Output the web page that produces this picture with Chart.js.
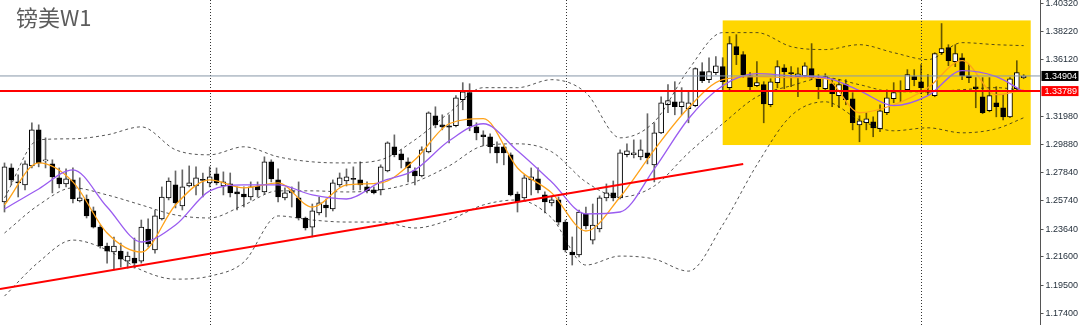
<!DOCTYPE html>
<html>
<head>
<meta charset="utf-8">
<script src="https://cdn.jsdelivr.net/npm/chart.js@4.4.1/dist/chart.umd.min.js"></script>
<style>
html, body { margin: 0; padding: 0; background: #fff; }
#wrap { width: 1080px; height: 325px; }
</style>
</head>
<body>
<div id="wrap"><canvas id="chart" width="1080" height="325"></canvas></div>
<script>
// GBPUSD weekly candles (index 0 = leftmost bar)
const title = '镑美W1';
const opens = [
  1.2561,1.2812,1.2709,1.2687,1.2827,1.3093,1.2864,1.2842,1.2739,1.2694,
  1.2724,1.2569,1.2583,1.2495,1.2376,1.2236,1.2192,1.2199,1.2125,1.2147,
  1.2125,1.2362,1.2207,1.2436,1.2591,1.2687,1.2532,1.2679,1.2679,1.2724,
  1.2702,1.2768,1.2679,1.2694,1.2635,1.2620,1.2598,1.2679,1.2635,1.2857,
  1.2724,1.2591,1.2628,1.2591,1.2443,1.2376,1.2480,1.2539,1.2509,1.2687,
  1.2716,1.2731,1.2724,1.2672,1.2650,1.2650,1.2790,1.2968,1.2916,1.2857,
  1.2790,1.2753,1.2931,1.3197,1.3130,1.3123,1.3123,1.3315,1.3367,1.3115,
  1.3056,1.3042,1.2968,1.2968,1.2909,1.2620,1.2591,1.2724,1.2731,1.2613,
  1.2554,1.2576,1.2413,1.2192,1.2170,1.2473,1.2280,1.2362,1.2591,1.2628,
  1.2591,1.2909,1.2909,1.2894,1.2923,1.2835,1.3071,1.3278,1.3300,1.3263,
  1.3249,1.3271,1.3522,1.3463,1.3515,1.3559,1.3404,1.3707,1.3648,1.3492,
  1.3418,1.3426,1.3278,1.3441,1.3551,1.3515,1.3485,1.3492,1.3544,1.3470,
  1.3396,1.3433,1.3345,1.3426,1.3322,1.3130,1.3145,1.3152,1.3101,1.3219,
  1.3322,1.3382,1.3389,1.3485,1.3448,1.3374,1.3345,1.3662,1.3699,1.3596,
  1.3625,1.3492,1.3411,1.3337,1.3234,1.3293,1.3256,1.3189,1.3396,1.3478
];
const highs = [
  1.2849,1.2842,1.2761,1.2864,1.3145,1.3130,1.3034,1.2872,1.2812,1.2805,
  1.2812,1.2739,1.2613,1.2524,1.2391,1.2258,1.2303,1.2258,1.2192,1.2295,
  1.2428,1.2436,1.2502,1.2672,1.2739,1.2790,1.2798,1.2827,1.2820,1.2775,
  1.2820,1.2812,1.2783,1.2775,1.2672,1.2672,1.2709,1.2709,1.2894,1.2872,
  1.2805,1.2665,1.2672,1.2709,1.2450,1.2546,1.2598,1.2583,1.2724,1.2775,
  1.2805,1.2820,1.2857,1.2709,1.2672,1.2835,1.3005,1.3056,1.2946,1.2886,
  1.2812,1.2968,1.3226,1.3263,1.3204,1.3204,1.3345,1.3441,1.3433,1.3145,
  1.3086,1.3064,1.3005,1.2982,1.2923,1.2635,1.2761,1.2812,1.2812,1.2635,
  1.2598,1.2598,1.2428,1.2303,1.2502,1.2524,1.2546,1.2606,1.2694,1.2716,
  1.2946,1.2990,1.3019,1.3019,1.3212,1.3145,1.3337,1.3426,1.3448,1.3404,
  1.3374,1.3551,1.3588,1.3625,1.3633,1.3625,1.3781,1.3795,1.3670,1.3515,
  1.3596,1.3448,1.3470,1.3603,1.3574,1.3559,1.3551,1.3588,1.3729,1.3500,
  1.3507,1.3470,1.3463,1.3463,1.3367,1.3197,1.3219,1.3189,1.3278,1.3389,
  1.3441,1.3455,1.3537,1.3537,1.3574,1.3500,1.3662,1.3877,1.3721,1.3721,
  1.3655,1.3574,1.3478,1.3478,1.3478,1.3411,1.3352,1.3478,1.3603,1.3500
];
const lows = [
  1.2487,1.2687,1.2598,1.2650,1.2812,1.2820,1.2812,1.2628,1.2665,1.2672,
  1.2554,1.2561,1.2443,1.2369,1.2221,1.2110,1.2059,1.2081,1.2073,1.2073,
  1.2110,1.2229,1.2184,1.2428,1.2576,1.2517,1.2502,1.2672,1.2613,1.2598,
  1.2672,1.2687,1.2613,1.2598,1.2502,1.2524,1.2576,1.2598,1.2620,1.2709,
  1.2561,1.2576,1.2524,1.2428,1.2354,1.2303,1.2465,1.2450,1.2495,1.2672,
  1.2679,1.2650,1.2650,1.2628,1.2620,1.2613,1.2783,1.2894,1.2812,1.2709,
  1.2687,1.2746,1.2923,1.3108,1.3093,1.2997,1.3115,1.3241,1.3086,1.3019,
  1.2975,1.2923,1.2849,1.2835,1.2606,1.2487,1.2576,1.2613,1.2628,1.2480,
  1.2532,1.2391,1.2192,1.2096,1.2155,1.2362,1.2251,1.2340,1.2569,1.2569,
  1.2583,1.2894,1.2886,1.2872,1.2842,1.2709,1.3064,1.3219,1.3204,1.3204,
  1.3145,1.3263,1.3441,1.3441,1.3500,1.3389,1.3374,1.3574,1.3478,1.3374,
  1.3411,1.3145,1.3263,1.3404,1.3396,1.3411,1.3337,1.3478,1.3463,1.3322,
  1.3382,1.3263,1.3256,1.3278,1.3093,1.3005,1.3093,1.3042,1.3079,1.3204,
  1.3293,1.3300,1.3374,1.3418,1.3359,1.3352,1.3337,1.3648,1.3566,1.3559,
  1.3463,1.3441,1.3256,1.3212,1.3226,1.3189,1.3167,1.3182,1.3389,1.3470
];
const closes = [
  1.2820,1.2724,1.2702,1.2842,1.3093,1.2849,1.2872,1.2746,1.2694,1.2731,
  1.2583,1.2591,1.2458,1.2376,1.2236,1.2199,1.2236,1.2140,1.2162,1.2110,
  1.2376,1.2251,1.2458,1.2598,1.2716,1.2554,1.2672,1.2702,1.2739,1.2720,
  1.2746,1.2702,1.2709,1.2628,1.2620,1.2598,1.2672,1.2650,1.2857,1.2731,
  1.2598,1.2628,1.2643,1.2443,1.2369,1.2495,1.2554,1.2517,1.2702,1.2739,
  1.2746,1.2728,1.2687,1.2643,1.2628,1.2820,1.2997,1.2909,1.2872,1.2812,
  1.2753,1.2946,1.3219,1.3130,1.3115,1.3112,1.3330,1.3374,1.3123,1.3071,
  1.3042,1.2968,1.2923,1.2923,1.2613,1.2561,1.2739,1.2746,1.2650,1.2561,
  1.2576,1.2413,1.2207,1.2170,1.2487,1.2384,1.2391,1.2591,1.2628,1.2591,
  1.2923,1.2938,1.2923,1.2946,1.2886,1.3071,1.3293,1.3308,1.3263,1.3300,
  1.3293,1.3544,1.3455,1.3522,1.3566,1.3448,1.3729,1.3648,1.3500,1.3411,
  1.3441,1.3285,1.3448,1.3559,1.3522,1.3507,1.3507,1.3566,1.3478,1.3411,
  1.3485,1.3359,1.3426,1.3315,1.3145,1.3160,1.3175,1.3108,1.3234,1.3330,
  1.3367,1.3374,1.3500,1.3463,1.3404,1.3371,1.3655,1.3692,1.3603,1.3655,
  1.3492,1.3478,1.3396,1.3219,1.3345,1.3263,1.3189,1.3470,1.3515,1.34904
];

// indicator lines, read every 5th bar
const lineIdx  = [0,5,10,15,20,25,30,35,40,45,50,55,60,65,70,75,80,85,90,95,100,105,110,115,120,125,130,135,140,145,149];
const fastMa   = [1.2539,1.2849,1.2709,1.2332,1.2192,1.2539,1.2724,1.2665,1.2702,1.2524,1.2687,1.2702,1.2872,1.3138,1.3175,1.2812,1.2628,1.2347,1.2598,1.2946,1.3256,1.3463,1.3485,1.3478,1.3470,1.3219,1.3278,1.3404,1.3603,1.3352,1.3389];
const slowMa   = [1.2509,1.2657,1.2798,1.2524,1.2266,1.2391,1.2643,1.2687,1.2687,1.2613,1.2583,1.2709,1.2798,1.3012,1.3138,1.2938,1.2709,1.2473,1.2487,1.2805,1.3175,1.3418,1.3507,1.3492,1.3478,1.3382,1.3271,1.3345,1.3529,1.3485,1.3374];
const bandUp   = [1.2591,1.3019,1.3027,1.3056,1.3115,1.2946,1.2909,1.2968,1.2894,1.2857,1.2849,1.2872,1.3019,1.3219,1.3404,1.3404,1.3463,1.3367,1.3034,1.3152,1.3537,1.3810,1.3810,1.3707,1.3685,1.3721,1.3662,1.3611,1.3736,1.3721,1.3714];
const bandMid  = [1.2332,1.2539,1.2665,1.2613,1.2539,1.2465,1.2443,1.2539,1.2643,1.2643,1.2635,1.2650,1.2709,1.2827,1.2975,1.2990,1.2931,1.2709,1.2598,1.2679,1.2923,1.3138,1.3337,1.3418,1.3478,1.3426,1.3374,1.3374,1.3389,1.3404,1.3382];
const bandLow  = [1.1867,1.2118,1.2280,1.2207,1.2059,1.1992,1.2014,1.2118,1.2458,1.2428,1.2413,1.2413,1.2369,1.2428,1.2539,1.2576,1.2443,1.2096,1.2162,1.2140,1.2051,1.2391,1.2835,1.3197,1.3300,1.3167,1.3086,1.3108,1.3071,1.3101,1.3182];

const yTicks = [1.40320,1.38220,1.36120,1.31980,1.29880,1.27840,1.25740,1.23640,1.21600,1.19500,1.17400];
const lastPrice = 1.34904;
const levelPrice = 1.33789;
const yearLines = [30.04, 82.1, 134.0];
const trendX = [-0.66, 108];
const trendY = [1.1919, 1.2841];
const boxX = [105, 150.03];
const boxY = [1.2981, 1.3900];

const xMin = -0.658, xMax = 151.39;

const decor = {
  id: 'decor',
  beforeDatasetsDraw(chart) {
    const {ctx, chartArea: a, scales: {x, y}} = chart;
    ctx.save();
    const bx0 = x.getPixelForValue(boxX[0]), bx1 = x.getPixelForValue(boxX[1]);
    const by0 = y.getPixelForValue(boxY[1]), by1 = y.getPixelForValue(boxY[0]);
    ctx.fillStyle = '#ffd600';
    ctx.fillRect(bx0, by0, bx1 - bx0, by1 - by0);
    ctx.strokeStyle = '#333';
    ctx.lineWidth = 1;
    ctx.setLineDash([1, 2]);
    yearLines.forEach(v => {
      const px = Math.round(x.getPixelForValue(v)) + 0.5;
      ctx.beginPath();
      ctx.moveTo(px, a.top);
      ctx.lineTo(px, a.bottom);
      ctx.stroke();
    });
    ctx.restore();
  },
  afterDraw(chart) {
    const {ctx, chartArea: a, scales: {y}} = chart;
    ctx.save();
    const ax = a.right + 0.5;
    ctx.strokeStyle = '#555';
    ctx.lineWidth = 1;
    ctx.beginPath();
    ctx.moveTo(ax, 0);
    ctx.lineTo(ax, chart.height);
    ctx.stroke();
    ctx.font = '9px "Liberation Sans", Arial, sans-serif';
    ctx.textBaseline = 'middle';
    ctx.fillStyle = '#1e2a36';
    yTicks.forEach(v => {
      const py = Math.round(y.getPixelForValue(v)) + 0.5;
      ctx.beginPath();
      ctx.moveTo(ax, py);
      ctx.lineTo(ax + 3, py);
      ctx.stroke();
      ctx.fillText(v.toFixed(5), ax + 5, py);
    });
    [[lastPrice, '#000'], [levelPrice, '#ff0000']].forEach(([v, c]) => {
      const py = y.getPixelForValue(v);
      ctx.fillStyle = c;
      ctx.fillRect(ax + 1, py - 5, 37, 10);
      ctx.fillStyle = '#fff';
      ctx.fillText(v.toFixed(5), ax + 4, py + 0.5);
    });
    ctx.font = '22px "Noto Sans CJK SC", sans-serif';
    ctx.textBaseline = 'alphabetic';
    ctx.fillStyle = '#5c5c5c';
    ctx.fillText(title, 16, 26);
    ctx.restore();
  }
};

function series(vals) {
  return lineIdx.map((v, i) => ({x: v, y: vals[i]}));
}
function flat(v) {
  return [{x: xMin, y: v}, {x: xMax, y: v}];
}

const bandStyle = {
  type: 'line', borderColor: 'rgba(30,30,30,0.75)', borderWidth: 1, borderDash: [3, 3],
  pointRadius: 0, cubicInterpolationMode: 'monotone', fill: false, order: 3
};

new Chart(document.getElementById('chart'), {
  type: 'line',
  data: {
    datasets: [
      {
        type: 'bar',
        data: closes.map((c, i) => ({x: i, y: [lows[i], highs[i]]})),
        backgroundColor: 'rgba(0,0,0,0.6)',
        barThickness: 1,
        grouped: false,
        order: 5
      },
      {
        type: 'bar',
        data: closes.map((c, i) => ({x: i, y: [opens[i], c]})),
        backgroundColor: closes.map((c, i) => c >= opens[i] ? '#ffffff' : '#000000'),
        borderColor: '#000',
        borderWidth: 1,
        borderSkipped: false,
        barThickness: 5,
        minBarLength: 1,
        grouped: false,
        order: 4
      },
      Object.assign({data: series(bandUp)}, bandStyle),
      Object.assign({data: series(bandMid)}, bandStyle),
      Object.assign({data: series(bandLow)}, bandStyle),
      {
        type: 'line', data: series(slowMa), borderColor: '#9a5cf0', borderWidth: 1.3,
        pointRadius: 0, cubicInterpolationMode: 'monotone', order: 2
      },
      {
        type: 'line', data: series(fastMa), borderColor: '#ffa31a', borderWidth: 1.3,
        pointRadius: 0, cubicInterpolationMode: 'monotone', order: 2
      },
      {
        type: 'line', data: flat(lastPrice), borderColor: '#8797a8', borderWidth: 1,
        pointRadius: 0, order: 1
      },
      {
        type: 'line', data: flat(levelPrice), borderColor: '#ff0000', borderWidth: 2,
        pointRadius: 0, order: 1
      },
      {
        type: 'line', data: [{x: trendX[0], y: trendY[0]}, {x: trendX[1], y: trendY[1]}],
        borderColor: '#ff0000', borderWidth: 2, pointRadius: 0, order: 1
      }
    ]
  },
  options: {
    responsive: false,
    animation: false,
    devicePixelRatio: 1,
    layout: { padding: { left: 0, top: 0, bottom: 0, right: 40 } },
    plugins: { legend: { display: false }, tooltip: { enabled: false } },
    scales: {
      x: { type: 'linear', display: false, offset: false, grid: { offset: false }, min: xMin, max: xMax },
      y: { type: 'linear', display: false, beginAtZero: false, min: 1.16537, max: 1.40506 }
    }
  },
  plugins: [decor]
});
</script>
</body>
</html>
